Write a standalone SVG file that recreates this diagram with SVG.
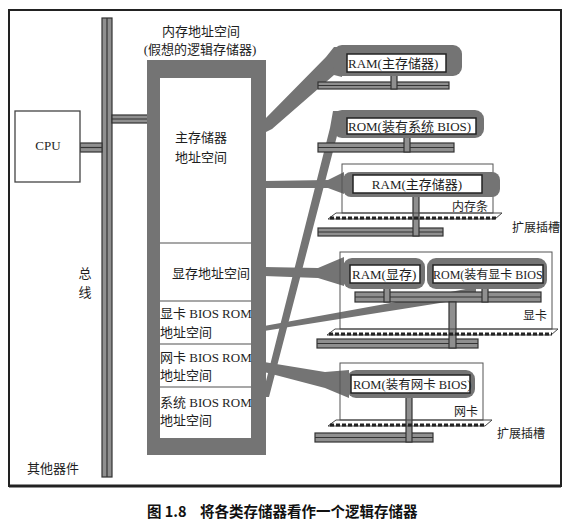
<svg xmlns="http://www.w3.org/2000/svg" width="568" height="523" viewBox="0 0 568 523">
<style>
.t{font-family:"Liberation Serif","Noto Sans CJK SC",serif;font-size:13px;fill:#1e1e1e}
.bus{fill:#8f8f8f;stroke:#333;stroke-width:1.2}
.mid{stroke:#333;stroke-width:1.2}
.band{fill:#747474}
.outer{fill:#747474}
.inner{fill:#fff;stroke:#222;stroke-width:1.5}
.mod{fill:none;stroke:#555;stroke-width:1}
.slot{fill:none;stroke:#444;stroke-width:1}
.dash{stroke:#222;stroke-width:3;stroke-dasharray:4 2}
.div{stroke:#8a8a8a;stroke-width:1.5}
.cap{font-family:"Noto Sans CJK SC","Liberation Sans",sans-serif;font-size:14.5px;font-weight:bold;fill:#111}
</style>
<rect width="568" height="523" fill="#fff"/>
<rect x="9" y="10" width="552" height="476" fill="none" stroke="#222" stroke-width="2"/>
<line x1="9" y1="486" x2="561" y2="486" stroke="#222" stroke-width="3"/>

<g id="bus">
<rect class="bus" x="102" y="18" width="10" height="459"/>
<line class="mid" x1="107" y1="18" x2="107" y2="477"/>
<text class="t" x="85" y="278" text-anchor="middle">总</text>
<text class="t" x="85" y="297" text-anchor="middle">线</text>
</g>

<g id="connectors">
<rect class="bus" x="80" y="143" width="22" height="9"/>
<line class="mid" x1="80" y1="147.5" x2="102" y2="147.5"/>
<rect class="bus" x="112" y="115" width="36" height="8"/>
<line class="mid" x1="112" y1="119" x2="148" y2="119"/>
<polygon class="band" points="264,120 326,57 334,47 342,47 342,77 334,75 272,129 264,133"/>
<polygon class="band" points="262,397 330,128 333,111 344,111 338,132 269,397"/>
<polygon class="band" points="264,181 328,180 344,172 344,194 328,188 264,188"/>
<polygon class="band" points="264,267 318,268 344,257 344,286 318,278 264,276"/>
<polygon class="band" points="264,326 440,294 476,287 476,297 440,303 264,331"/>
<polygon class="band" points="264,362 325,372 349,370 349,398 325,388 264,372"/>
</g>

<g id="cpu">
<rect x="15" y="111" width="65" height="71" fill="#fff" stroke="#444" stroke-width="1.3"/>
<text class="t" x="48" y="150" text-anchor="middle">CPU</text>
</g>

<g id="other">
<text class="t" x="27" y="473">其他器件</text>
</g>

<g id="memspace">
<text class="t" x="201" y="36" text-anchor="middle">内存地址空间</text>
<text class="t" x="200" y="54" text-anchor="middle">(假想的逻辑存储器)</text>
<rect class="outer" x="147" y="60" width="119" height="395"/>
<rect x="160" y="78" width="91" height="360" fill="#fff"/>
<line class="div" x1="160" y1="243" x2="251" y2="243"/>
<line class="div" x1="160" y1="301" x2="251" y2="301"/>
<line class="div" x1="160" y1="344" x2="251" y2="344"/>
<line class="div" x1="160" y1="387" x2="251" y2="387"/>
<text class="t" x="175" y="142">主存储器</text>
<text class="t" x="175" y="162">地址空间</text>
<text class="t" x="172" y="278">显存地址空间</text>
<text class="t" x="160" y="318">显卡 BIOS ROM</text>
<text class="t" x="160" y="337">地址空间</text>
<text class="t" x="160" y="362">网卡 BIOS ROM</text>
<text class="t" x="160" y="380">地址空间</text>
<text class="t" x="160" y="407">系统 BIOS ROM</text>
<text class="t" x="160" y="425">地址空间</text>
</g>

<g id="ram-main">
<rect class="bus" x="318" y="82" width="131" height="7"/>
<line class="mid" x1="318" y1="85.5" x2="449" y2="85.5"/>
<rect class="bus" x="391" y="72" width="6" height="17"/>
<rect class="outer" x="333" y="45" width="129" height="31" rx="9"/>
<rect class="inner" x="347" y="54" width="99" height="18"/>
<text class="t" x="348" y="68">RAM(主存储器)</text>
</g>

<g id="rom-sys">
<rect class="bus" x="318" y="143" width="136" height="9"/>
<line class="mid" x1="318" y1="147.5" x2="454" y2="147.5"/>
<rect class="bus" x="404" y="134" width="6" height="18"/>
<rect class="outer" x="333" y="110" width="151" height="28" rx="9"/>
<rect class="inner" x="347" y="118" width="129" height="16"/>
<text class="t" x="348" y="131">ROM(装有系统 BIOS)</text>
</g>

<g id="ram-module">
<rect class="bus" x="318" y="228" width="125" height="8"/>
<line class="mid" x1="318" y1="232" x2="443" y2="232"/>
<rect class="mod" x="342" y="164" width="151" height="49"/>
<rect class="bus" x="413" y="193" width="6" height="43"/>
<polygon class="slot" points="328,219 336,213 502,213 495,219"/>
<line class="dash" x1="330" y1="218" x2="496" y2="218"/>
<rect class="outer" x="343" y="172" width="157" height="25" rx="8"/>
<rect class="inner" x="353" y="175" width="129" height="18"/>
<text class="t" x="417" y="189" text-anchor="middle">RAM(主存储器)</text>
<text class="t" x="452" y="211" style="font-size:12px">内存条</text>
<text class="t" x="512" y="232" style="font-size:12px">扩展插槽</text>
</g>

<g id="video-card">
<rect class="bus" x="317" y="339" width="161" height="9"/>
<line class="mid" x1="317" y1="343.5" x2="478" y2="343.5"/>
<rect class="mod" x="340" y="252" width="212" height="77"/>
<rect class="bus" x="355" y="292" width="186" height="10"/>
<line class="mid" x1="355" y1="297" x2="541" y2="297"/>
<rect class="bus" x="384" y="283" width="6" height="19"/>
<rect class="bus" x="482" y="283" width="6" height="19"/>
<rect class="bus" x="449" y="302" width="7" height="46"/>
<polygon class="slot" points="327,335 335,329 558,329 551,335"/>
<line class="dash" x1="329" y1="334" x2="552" y2="334"/>
<rect class="outer" x="343" y="258" width="82" height="31" rx="9"/>
<rect class="inner" x="350" y="265" width="70" height="18"/>
<text class="t" x="352" y="279">RAM(显存)</text>
<rect class="outer" x="427" y="258" width="120" height="31" rx="9"/>
<rect class="inner" x="433" y="265" width="110" height="18"/>
<text class="t" x="433" y="279" style="font-size:12px">ROM(装有显卡 BIOS</text>
<text class="t" x="523" y="320" style="font-size:12px">显卡</text>
</g>

<g id="nic">
<rect class="bus" x="315" y="433" width="118" height="9"/>
<line class="mid" x1="315" y1="437.5" x2="433" y2="437.5"/>
<rect class="mod" x="340" y="363" width="143" height="57"/>
<rect class="bus" x="406" y="393" width="6" height="49"/>
<polygon class="slot" points="328,426 336,420 492,420 485,426"/>
<line class="dash" x1="330" y1="425" x2="486" y2="425"/>
<rect class="outer" x="347" y="370" width="128" height="28" rx="9"/>
<rect class="inner" x="351" y="375" width="119" height="18"/>
<text class="t" x="353" y="389" style="font-size:12.5px">ROM(装有网卡 BIOS)</text>
<text class="t" x="454" y="416" style="font-size:12px">网卡</text>
<text class="t" x="497" y="438" style="font-size:12px">扩展插槽</text>
</g>

<text class="cap" x="147" y="517">图 1.8<tspan x="200">将各类存储器看作一个逻辑存储器</tspan></text>
</svg>
